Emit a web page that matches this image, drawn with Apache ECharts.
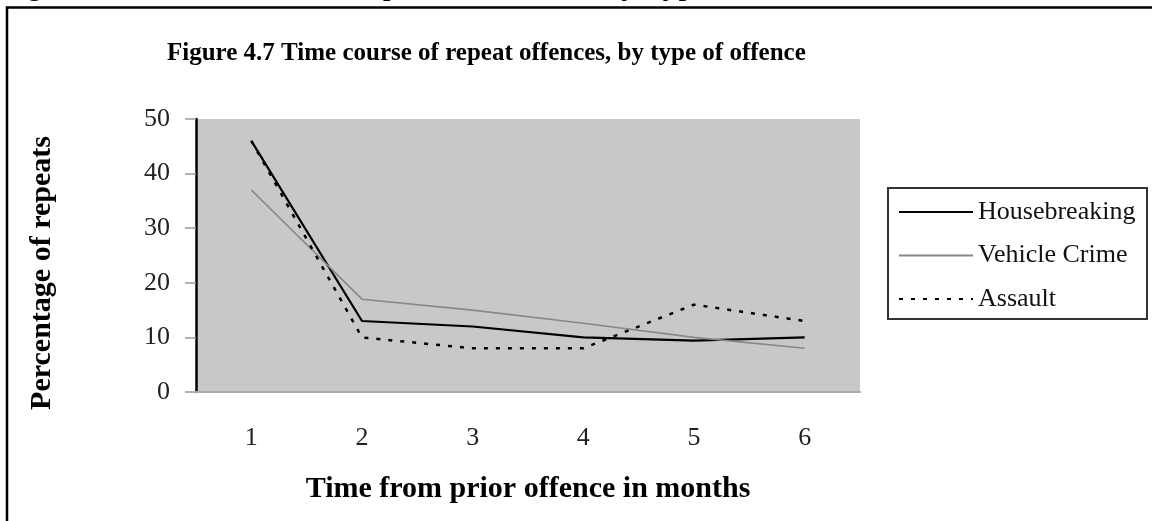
<!DOCTYPE html>
<html>
<head>
<meta charset="utf-8">
<script src="https://cdn.jsdelivr.net/npm/echarts@6/dist/echarts.min.js"></script>
<style>
	html, body { margin: 0; padding: 0; background: #fff; }
	#chart { width: 1152px; height: 521px; }
</style>
</head>
<body>
<div id="chart"></div>
<script>
var months = ['1', '2', '3', '4', '5', '6'];
var seriesNames = ['Housebreaking', 'Vehicle Crime', 'Assault'];
var housebreaking = [46, 13, 12, 10, 9.4, 10];
var vehicleCrime = [37, 17, 15, 12.6, 10, 8];
var assault = [46, 10, 8, 8, 16, 13];
var yTicks = { min: 0, max: 50, interval: 10 };

var serif = '"Liberation Serif", "Times New Roman", serif';

var myChart = echarts.init(document.getElementById('chart'));

var option = {
	animation: false,
	backgroundColor: '#fff',
	title: {
		text: 'Figure 4.7 Time course of repeat offences, by type of offence',
		left: 162,
		top: 36,
		textStyle: {
			fontFamily: serif,
			fontWeight: 'bold',
			fontSize: 25,
			color: '#000'
		}
	},
	grid: {
		show: true,
		left: 196,
		right: 292,
		top: 119,
		bottom: 129,
		backgroundColor: '#c8c8c8',
		borderWidth: 0
	},
	legend: {
		orient: 'vertical',
		left: 893,
		top: 194,
		itemWidth: 74,
		itemHeight: 12,
		itemGap: 17.5,
		padding: 5,
		data: seriesNames,
		// hide the symbol dot, keep the line sample
		itemStyle: { opacity: 0 },
		textStyle: {
			fontFamily: serif,
			fontSize: 26,
			color: '#111',
			padding: [0, 0, 16, 0]
		}
	},
	xAxis: {
		type: 'category',
		data: months,
		boundaryGap: true,
		name: 'Time from prior offence in months',
		nameLocation: 'middle',
		nameGap: 82,
		nameTextStyle: {
			fontFamily: serif,
			fontWeight: 'bold',
			fontSize: 30,
			color: '#000'
		},
		axisLine: { lineStyle: { color: '#aaa', width: 2 } },
		axisTick: { length: 11, lineStyle: { color: '#aaa', width: 1.5 } },
		axisLabel: {
			margin: 33,
			fontFamily: serif,
			fontSize: 26,
			color: '#222'
		}
	},
	yAxis: {
		type: 'value',
		min: yTicks.min,
		max: yTicks.max,
		interval: yTicks.interval,
		splitLine: { show: false },
		axisLine: { show: true, lineStyle: { color: '#000', width: 2.5 } },
		axisTick: { show: true, length: 11, lineStyle: { color: '#999', width: 1.5 } },
		axisLabel: {
			margin: 26,
			fontFamily: serif,
			fontSize: 26,
			color: '#222'
		}
	},
	series: [
		{
			name: 'Housebreaking',
			type: 'line',
			symbol: 'none',
			data: housebreaking,
			lineStyle: { color: '#000', width: 2.2 },
			itemStyle: { color: '#000' }
		},
		{
			name: 'Vehicle Crime',
			type: 'line',
			symbol: 'none',
			data: vehicleCrime,
			lineStyle: { color: '#888', width: 1.6 },
			itemStyle: { color: '#888' }
		},
		{
			name: 'Assault',
			type: 'line',
			symbol: 'none',
			data: assault,
			lineStyle: { color: '#000', width: 2.5, type: [4, 8] },
			itemStyle: { color: '#000' }
		}
	],
	graphic: [
		// cropped caption above the frame, only its descenders show
		{
			type: 'text',
			left: 0,
			top: -30,
			style: {
				text: 'Figure 4.7 Time Course of Repeated Offences, by Type of Offence',
				font: '32px ' + serif,
				fill: '#000'
			}
		},
		// y axis title
		{
			type: 'text',
			x: 42,
			y: 273,
			rotation: Math.PI / 2,
			style: {
				text: 'Percentage of repeats',
				font: 'bold 30px ' + serif,
				fill: '#000',
				align: 'center',
				verticalAlign: 'middle'
			}
		},
		// outer frame
		{
			type: 'rect',
			shape: { x: 7, y: 7.5, width: 1300, height: 700 },
			style: { fill: 'none', stroke: '#000', lineWidth: 2.5 }
		},
		// legend box
		{
			type: 'rect',
			shape: { x: 888, y: 188, width: 259, height: 131 },
			style: { fill: 'none', stroke: '#333', lineWidth: 2 }
		}
	]
};

myChart.setOption(option);
window.addEventListener('resize', myChart.resize);
</script>
</body>
</html>
